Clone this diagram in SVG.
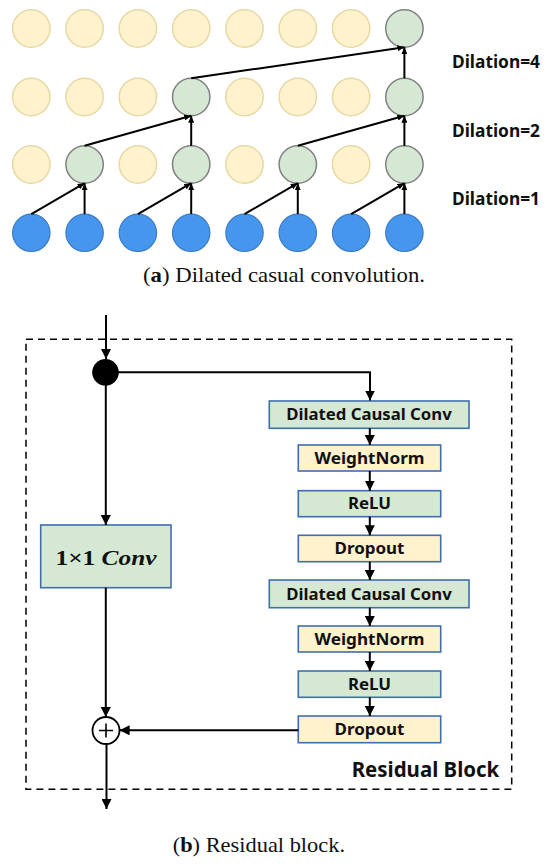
<svg xmlns="http://www.w3.org/2000/svg" width="550" height="866" viewBox="0 0 550 866">
<defs>
<style>
.y{fill:#FFF2CC;stroke:#E6D9A5;stroke-width:1.5}
.g{fill:#D5E8D4;stroke:#808080;stroke-width:1.5}
.b{fill:#4696ED;stroke:#3B7BC6;stroke-width:1.2}
.bx-g{fill:#D5E8D4;stroke:#3F6EAD;stroke-width:1.6}
.bx-y{fill:#FFF2CC;stroke:#3F6EAD;stroke-width:1.6}
.ln{stroke:#000;stroke-width:2;fill:none}
.as{marker-end:url(#ms)}
.al{marker-end:url(#ml)}
.lbl{font-family:"Noto Sans","Open Sans","DejaVu Sans",sans-serif;font-weight:bold;fill:#111}
.cap{font-family:"Liberation Serif","DejaVu Serif",serif;font-size:21px;fill:#111}
</style>
<marker id="ms" viewBox="0 0 7 6" refX="7" refY="3" markerWidth="7" markerHeight="6" markerUnits="userSpaceOnUse" orient="auto"><path d="M0,0 L7,3 L0,6 z" fill="#000"/></marker>
<marker id="ml" viewBox="0 0 10 10" refX="10" refY="5" markerWidth="10" markerHeight="10" markerUnits="userSpaceOnUse" orient="auto"><path d="M0,0 L10,5 L0,10 z" fill="#000"/></marker>
</defs>
<rect width="550" height="866" fill="#fff"/>

<g id="top-nodes">
<g id="r1">
<circle id="n1-0" class="y" cx="31.3" cy="28.5" r="18.7"/>
<circle id="n1-1" class="y" cx="84.6" cy="28.5" r="18.7"/>
<circle id="n1-2" class="y" cx="137.9" cy="28.5" r="18.7"/>
<circle id="n1-3" class="y" cx="191.2" cy="28.5" r="18.7"/>
<circle id="n1-4" class="y" cx="244.5" cy="28.5" r="18.7"/>
<circle id="n1-5" class="y" cx="297.8" cy="28.5" r="18.7"/>
<circle id="n1-6" class="y" cx="351.1" cy="28.5" r="18.7"/>
<circle id="n1-7" class="g" cx="404.4" cy="28.5" r="18.7"/>
</g>
<g id="r2">
<circle id="n2-0" class="y" cx="31.3" cy="97" r="18.7"/>
<circle id="n2-1" class="y" cx="84.6" cy="97" r="18.7"/>
<circle id="n2-2" class="y" cx="137.9" cy="97" r="18.7"/>
<circle id="n2-3" class="g" cx="191.2" cy="97" r="18.7"/>
<circle id="n2-4" class="y" cx="244.5" cy="97" r="18.7"/>
<circle id="n2-5" class="y" cx="297.8" cy="97" r="18.7"/>
<circle id="n2-6" class="y" cx="351.1" cy="97" r="18.7"/>
<circle id="n2-7" class="g" cx="404.4" cy="97" r="18.7"/>
</g>
<g id="r3">
<circle id="n3-0" class="y" cx="31.3" cy="164.5" r="18.7"/>
<circle id="n3-1" class="g" cx="84.6" cy="164.5" r="18.7"/>
<circle id="n3-2" class="y" cx="137.9" cy="164.5" r="18.7"/>
<circle id="n3-3" class="g" cx="191.2" cy="164.5" r="18.7"/>
<circle id="n3-4" class="y" cx="244.5" cy="164.5" r="18.7"/>
<circle id="n3-5" class="g" cx="297.8" cy="164.5" r="18.7"/>
<circle id="n3-6" class="y" cx="351.1" cy="164.5" r="18.7"/>
<circle id="n3-7" class="g" cx="404.4" cy="164.5" r="18.7"/>
</g>
<g id="r4">
<circle id="n4-0" class="b" cx="31.3" cy="232.8" r="18.7"/>
<circle id="n4-1" class="b" cx="84.6" cy="232.8" r="18.7"/>
<circle id="n4-2" class="b" cx="137.9" cy="232.8" r="18.7"/>
<circle id="n4-3" class="b" cx="191.2" cy="232.8" r="18.7"/>
<circle id="n4-4" class="b" cx="244.5" cy="232.8" r="18.7"/>
<circle id="n4-5" class="b" cx="297.8" cy="232.8" r="18.7"/>
<circle id="n4-6" class="b" cx="351.1" cy="232.8" r="18.7"/>
<circle id="n4-7" class="b" cx="404.4" cy="232.8" r="18.7"/>
</g>
</g>

<g id="top-connectors" class="ln">
<line class="as" x1="31.3" y1="214.1" x2="84.6" y2="183.2"/>
<line class="as" x1="84.6" y1="214.1" x2="84.6" y2="183.2"/>
<line class="as" x1="137.9" y1="214.1" x2="191.2" y2="183.2"/>
<line class="as" x1="191.2" y1="214.1" x2="191.2" y2="183.2"/>
<line class="as" x1="244.5" y1="214.1" x2="297.8" y2="183.2"/>
<line class="as" x1="297.8" y1="214.1" x2="297.8" y2="183.2"/>
<line class="as" x1="351.1" y1="214.1" x2="404.4" y2="183.2"/>
<line class="as" x1="404.4" y1="214.1" x2="404.4" y2="183.2"/>
<line class="as" x1="84.6" y1="145.8" x2="191.2" y2="115.7"/>
<line class="as" x1="191.2" y1="145.8" x2="191.2" y2="115.7"/>
<line class="as" x1="297.8" y1="145.8" x2="404.4" y2="115.7"/>
<line class="as" x1="404.4" y1="145.8" x2="404.4" y2="115.7"/>
<line class="as" x1="191.2" y1="78.3" x2="404.4" y2="47.2"/>
<line class="as" x1="404.4" y1="78.3" x2="404.4" y2="47.2"/>
</g>

<g id="dilation-labels" class="lbl" font-size="18.5">
<text x="452" y="68.3" textLength="88" lengthAdjust="spacingAndGlyphs">Dilation=4</text>
<text x="452" y="136.7" textLength="88" lengthAdjust="spacingAndGlyphs">Dilation=2</text>
<text x="452" y="204.8" textLength="88" lengthAdjust="spacingAndGlyphs">Dilation=1</text>
</g>

<text id="caption-a" class="cap" x="143" y="281.7" textLength="282" lengthAdjust="spacingAndGlyphs">(<tspan font-weight="bold">a</tspan>) Dilated casual convolution.</text>

<g id="residual-block">
<rect id="block-frame" x="26" y="339.3" width="485.7" height="450" fill="none" stroke="#000" stroke-width="1.5" stroke-dasharray="7,5"/>
<text id="block-label" class="lbl" x="499.3" y="777.3" font-size="20.5" text-anchor="end" textLength="147.6" lengthAdjust="spacingAndGlyphs">Residual Block</text>
</g>

<g id="split-node"><circle cx="105.5" cy="372.3" r="13.3" fill="#000"/></g>

<g id="conv1x1">
<rect class="bx-g" x="40.7" y="525" width="130.3" height="62.7"/>
<text x="106" y="565" font-family="'Liberation Serif','DejaVu Serif',serif" font-size="21" font-weight="bold" text-anchor="middle" fill="#111" textLength="101" lengthAdjust="spacingAndGlyphs">1×1 <tspan font-style="italic">Conv</tspan></text>
</g>

<g id="plus-node">
<circle cx="106" cy="730.5" r="13.5" fill="#fff" stroke="#000" stroke-width="1.8"/>
<path d="M99,730.5 H113 M106,723.5 V737.5" stroke="#000" stroke-width="1.6"/>
</g>

<g id="dcc1"><rect class="bx-g" x="269.3" y="401" width="199.7" height="27.3"/><text class="lbl" x="369" y="420.3" font-size="16.3" text-anchor="middle" textLength="165.5" lengthAdjust="spacingAndGlyphs">Dilated Causal Conv</text></g>
<g id="wn1"><rect class="bx-y" x="298.3" y="445" width="142.4" height="26"/><text class="lbl" x="369.5" y="463.5" font-size="16.3" text-anchor="middle" textLength="110" lengthAdjust="spacingAndGlyphs">WeightNorm</text></g>
<g id="relu1"><rect class="bx-g" x="298.3" y="490.7" width="142.4" height="26"/><text class="lbl" x="369.5" y="508.6" font-size="16.3" text-anchor="middle" textLength="43" lengthAdjust="spacingAndGlyphs">ReLU</text></g>
<g id="drop1"><rect class="bx-y" x="298.3" y="535.3" width="142.4" height="26.4"/><text class="lbl" x="369.5" y="553.5" font-size="16.3" text-anchor="middle" textLength="70" lengthAdjust="spacingAndGlyphs">Dropout</text></g>
<g id="dcc2"><rect class="bx-g" x="269.3" y="580" width="199.7" height="27.7"/><text class="lbl" x="369" y="599.5" font-size="16.3" text-anchor="middle" textLength="165.5" lengthAdjust="spacingAndGlyphs">Dilated Causal Conv</text></g>
<g id="wn2"><rect class="bx-y" x="298.3" y="626" width="142.4" height="26"/><text class="lbl" x="369.5" y="644.5" font-size="16.3" text-anchor="middle" textLength="110" lengthAdjust="spacingAndGlyphs">WeightNorm</text></g>
<g id="relu2"><rect class="bx-g" x="298.3" y="671" width="142.4" height="26.3"/><text class="lbl" x="369.5" y="689.6" font-size="16.3" text-anchor="middle" textLength="43" lengthAdjust="spacingAndGlyphs">ReLU</text></g>
<g id="drop2"><rect class="bx-y" x="298.3" y="716" width="142.4" height="26.7"/><text class="lbl" x="369.5" y="734.5" font-size="16.3" text-anchor="middle" textLength="70" lengthAdjust="spacingAndGlyphs">Dropout</text></g>

<g id="connectors" class="ln">
<line class="al" x1="106" y1="315" x2="106" y2="359"/>
<path class="al" d="M105.5,372.3 H370 V400.5"/>
<line class="al" x1="105.8" y1="385" x2="105.8" y2="525"/>
<line class="al" x1="105.8" y1="587.7" x2="105.8" y2="717"/>
<line class="al" x1="298.3" y1="730.3" x2="119.6" y2="730.3"/>
<line class="al" x1="106.5" y1="744" x2="106.5" y2="809"/>
<line class="al" x1="369.8" y1="428.3" x2="369.8" y2="445"/>
<line class="al" x1="369.8" y1="471" x2="369.8" y2="490.7"/>
<line class="al" x1="369.8" y1="516.7" x2="369.8" y2="535.3"/>
<line class="al" x1="369.8" y1="561.7" x2="369.8" y2="580"/>
<line class="al" x1="369.8" y1="607.7" x2="369.8" y2="626"/>
<line class="al" x1="369.8" y1="652" x2="369.8" y2="671"/>
<line class="al" x1="369.8" y1="697.3" x2="369.8" y2="716"/>
</g>

<text id="caption-b" class="cap" x="172.7" y="851.7" textLength="172.3" lengthAdjust="spacingAndGlyphs">(<tspan font-weight="bold">b</tspan>) Residual block.</text>
</svg>
